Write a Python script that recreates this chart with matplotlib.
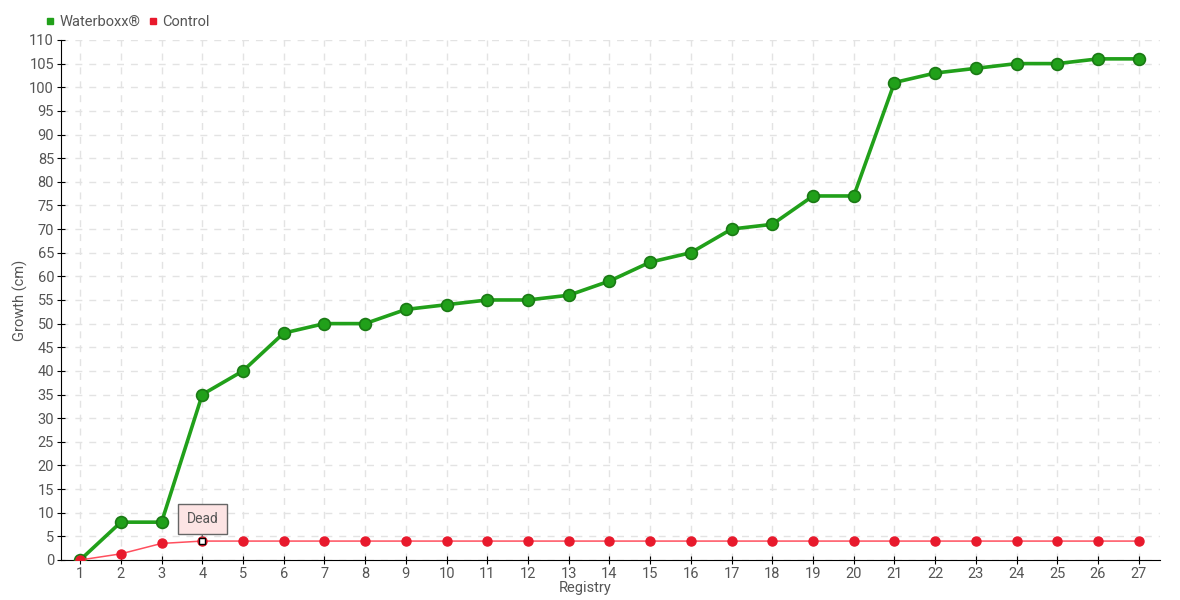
import matplotlib
matplotlib.use("Agg")
import matplotlib.pyplot as plt
from matplotlib.lines import Line2D

registry = list(range(1, 28))
waterboxx = [0, 8, 8, 35, 40, 48, 50, 50, 53, 54, 55, 55, 56, 59, 63, 65,
             70, 71, 77, 77, 101, 103, 104, 105, 105, 106, 106]
control = [0, 1.3, 3.5, 4, 4, 4, 4, 4, 4, 4, 4, 4, 4, 4, 4, 4,
           4, 4, 4, 4, 4, 4, 4, 4, 4, 4, 4]
dead_idx = 3

plt.rcParams['font.family'] = ['Roboto', 'DejaVu Sans']
TXT = "#555555"

fig = plt.figure(figsize=(11.8, 6), dpi=100)
ax = fig.add_axes([0.0517, 0.0667, 0.9313, 0.8667])

ax.plot(registry, waterboxx, color="#21a01a", lw=2.6, marker="o", ms=8.5,
        mfc="#21a01a", mec="#1a7a14", mew=1.2, zorder=3)
ax.plot(registry, control, color="#ff4f5e", lw=1.1, marker="o", ms=6.5,
        mfc="#e8192c", mec="#e8192c", zorder=4)
ax.plot(registry[dead_idx], control[dead_idx], marker="s", ms=4, mfc="white",
        mec="black", mew=1, zorder=5)

ax.annotate("Dead", xy=(registry[dead_idx], control[dead_idx]),
            xytext=(0, 16), textcoords="offset points", ha="center", va="center",
            fontsize=10, color=TXT,
            bbox=dict(boxstyle="square,pad=0.6", fc="#fde4e4", ec="#666666", lw=1),
            arrowprops=dict(arrowstyle="-", color="#666666", lw=1, shrinkA=0, shrinkB=3),
            zorder=6)

ax.set_xlim(0.53, 27.52)
ax.set_ylim(0, 110)
ax.set_xticks(registry)
ax.set_yticks(range(0, 111, 5))
ax.grid(True, color="#e3e3e3", ls=(0, (5, 5)), lw=1)
ax.set_axisbelow(True)
for s in ["top", "right"]:
    ax.spines[s].set_visible(False)
ax.tick_params(direction="inout", length=6, colors="black", labelcolor=TXT,
               labelsize=10.5, pad=2)
ax.set_xlabel("Registry", color=TXT, fontsize=10.5)
ax.set_ylabel("Growth (cm)", color=TXT, fontsize=10.5)
ax.xaxis.set_label_coords(0.477, -0.04)
ax.yaxis.set_label_coords(-0.03, 0.5)

handles = [Line2D([], [], ls="none", marker="s", ms=4, color="#21a01a"),
           Line2D([], [], ls="none", marker="s", ms=4, color="#e8192c")]
fig.legend(handles, ["Waterboxx®", "Control"], loc="upper left",
           bbox_to_anchor=(46 / 1180, 1 - 15 / 600), ncol=2, frameon=False,
           fontsize=10.5, borderpad=0, borderaxespad=0, handlelength=0.6,
           handletextpad=0.3, columnspacing=0.6, labelcolor=TXT)

fig.savefig("out.png", dpi=100)
